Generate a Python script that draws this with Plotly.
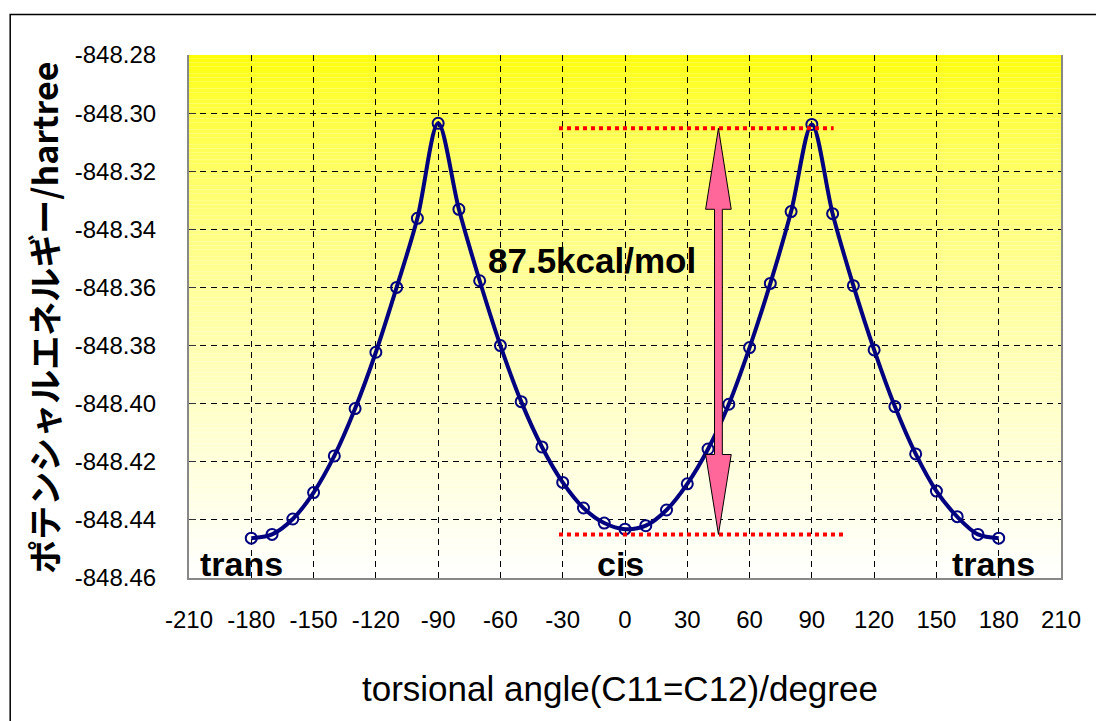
import plotly.graph_objects as go

# ---- data ----
angle_deg = [-180, -170, -160, -150, -140, -130, -120, -110, -100, -90,
             -80, -70, -60, -50, -40, -30, -20, -10, 0, 10,
             20, 30, 40, 50, 60, 70, 80, 90, 100, 110,
             120, 130, 140, 150, 160, 170, 180]
energy_hartree = [-848.4463, -848.4450, -848.4397, -848.4306, -848.4180, -848.4017, -848.3823, -848.3600, -848.3362, -848.3035,
                  -848.3331, -848.3577, -848.3800, -848.3993, -848.4149, -848.4271, -848.4359, -848.4411, -848.4432, -848.4420,
                  -848.4366, -848.4276, -848.4156, -848.4002, -848.3807, -848.3586, -848.3339, -848.3039, -848.3346, -848.3594,
                  -848.3815, -848.4010, -848.4173, -848.4301, -848.4389, -848.4450, -848.4463]
x_ticks = [-210, -180, -150, -120, -90, -60, -30, 0, 30, 60, 90, 120, 150, 180, 210]
y_ticks = [-848.46, -848.44, -848.42, -848.40, -848.38, -848.36, -848.34, -848.32, -848.30, -848.28]
barrier_top = -848.3052
barrier_bottom = -848.4450
barrier_label = "87.5kcal/mol"
state_labels = ["trans", "cis", "trans"]
state_angles = [-184.5, -2, 177.5]

X_RANGE = [-210, 210]
Y_RANGE = [-848.46, -848.28]

# page is rendered with an 8px body margin
OFF = 8
W, H = 1104 - OFF, 721 - OFF
PLOT_L, PLOT_R, PLOT_T, PLOT_B = 188.5, 1061.5, 55, 578   # page pixels
ML = PLOT_L - OFF
MR = W - (PLOT_R - OFF)
MT = PLOT_T - OFF
MB = H - (PLOT_B - OFF)
PW = PLOT_R - PLOT_L
PH = PLOT_B - PLOT_T


def px_to_paper_x(px):
    return (px - PLOT_L) / PW


def py_to_paper_y(py):
    return (PLOT_B - py) / PH


fig = go.Figure()

fig.add_trace(go.Scatter(
    x=angle_deg, y=energy_hartree, mode="lines+markers",
    line=dict(color="#000080", width=4, shape="spline", smoothing=0.9),
    marker=dict(symbol="circle-open", size=11, color="#000080", line=dict(width=2, color="#000080")),
    showlegend=False, hoverinfo="x+y",
))

shapes = []
# gradient background (yellow top -> white bottom)
N = 140
for i in range(N):
    y0 = Y_RANGE[0] + (Y_RANGE[1] - Y_RANGE[0]) * i / N
    y1 = Y_RANGE[0] + (Y_RANGE[1] - Y_RANGE[0]) * (i + 1) / N
    t_from_top = 1 - (i + 0.5) / N
    b = int(round(255 * t_from_top ** 0.62))
    shapes.append(dict(type="rect", xref="x", yref="y", x0=X_RANGE[0], x1=X_RANGE[1], y0=y0, y1=y1,
                       fillcolor=f"rgb(255,255,{b})", line=dict(width=0), layer="below"))

# red dotted level lines
shapes.append(dict(type="line", xref="x", yref="y", x0=-31.8, x1=100.5, y0=barrier_top, y1=barrier_top,
                   line=dict(color="#FF0000", width=4, dash="dot"), layer="above"))
shapes.append(dict(type="line", xref="x", yref="y", x0=-31.8, x1=105.4, y0=barrier_bottom, y1=barrier_bottom,
                   line=dict(color="#FF0000", width=4, dash="dot"), layer="above"))

# pink double arrow (x in pixels around anchor, y in data)
hw_shaft, hw_head = 3.9, 12.8
hl_top, hl_bot = 0.0279, 0.0275
yt, yb = barrier_top, barrier_bottom
pts = [(0, yt), (hw_head, yt - hl_top), (hw_shaft, yt - hl_top), (hw_shaft, yb + hl_bot),
       (hw_head, yb + hl_bot), (0, yb), (-hw_head, yb + hl_bot), (-hw_shaft, yb + hl_bot),
       (-hw_shaft, yt - hl_top), (-hw_head, yt - hl_top)]
path = "M " + " L ".join(f"{px},{py}" for px, py in pts) + " Z"
shapes.append(dict(type="path", xref="x", yref="y", xsizemode="pixel", xanchor=45, path=path,
                   fillcolor="#FF6699", line=dict(color="black", width=1), layer="above"))

# outer frame
shapes.append(dict(type="rect", xref="paper", yref="paper",
                   x0=px_to_paper_x(9.5), x1=px_to_paper_x(1099.5), y0=py_to_paper_y(740), y1=py_to_paper_y(14.5),
                   line=dict(color="black", width=1.5), fillcolor="rgba(0,0,0,0)", layer="below"))

annotations = []
for lab, ax in zip(state_labels, state_angles):
    annotations.append(dict(x=ax, y=0, xref="x", yref="paper", text=lab, showarrow=False,
                            yanchor="bottom", yshift=-7,
                            font=dict(family="Liberation Sans, Arial", size=34, color="black", weight="bold")))
annotations.append(dict(x=-16, y=-848.3506, xref="x", yref="y", text=barrier_label, showarrow=False,
                        font=dict(family="Liberation Sans, Arial", size=35, color="black", weight="bold")))
annotations.append(dict(x=px_to_paper_x(620), y=py_to_paper_y(688), xref="paper", yref="paper",
                        text="torsional angle(C11=C12)/degree", showarrow=False, yanchor="middle",
                        font=dict(family="Liberation Sans, Arial", size=35, color="black")))
annotations.append(dict(x=px_to_paper_x(42), y=py_to_paper_y(318), xref="paper", yref="paper",
                        text="ポテンシャルエネルギー/hartree", showarrow=False, textangle=-90,
                        xanchor="center", yanchor="middle",
                        font=dict(family="Noto Sans CJK JP", size=34, color="black", weight="bold")))

fig.update_layout(
    width=W, height=H,
    margin=dict(l=ML, r=MR, t=MT, b=MB, pad=0, autoexpand=False),
    paper_bgcolor="white", plot_bgcolor="white",
    shapes=shapes, annotations=annotations,
    xaxis=dict(range=X_RANGE, tickvals=x_ticks, ticktext=[str(v) for v in x_ticks],
               showgrid=True, gridcolor="black", griddash="6px,5px", gridwidth=1,
               zeroline=False, showline=True, linecolor="#888888", linewidth=2, ticks="",
               ticklabelstandoff=19,
               tickfont=dict(family="Liberation Sans, Arial", size=24, color="black")),
    xaxis2=dict(range=X_RANGE, tickvals=x_ticks, overlaying="x", side="top", anchor="y",
                matches="x", showgrid=False, zeroline=False, showline=True, linecolor="#333333",
                linewidth=2, ticks="outside", ticklen=8, tickcolor="black", tickwidth=1,
                showticklabels=False),
    yaxis=dict(range=Y_RANGE, tickvals=y_ticks, ticktext=[f"{v:.2f}" for v in y_ticks],
               showgrid=True, gridcolor="black", griddash="6px,5px", gridwidth=1,
               zeroline=False, showline=True, linecolor="#888888", linewidth=2, mirror=True,
               ticks="inside", ticklen=7, tickcolor="#333333",
               ticklabelstandoff=26,
               tickfont=dict(family="Liberation Sans, Arial", size=24, color="black")),
    hovermode="closest",
)

fig.write_html("out.html")
